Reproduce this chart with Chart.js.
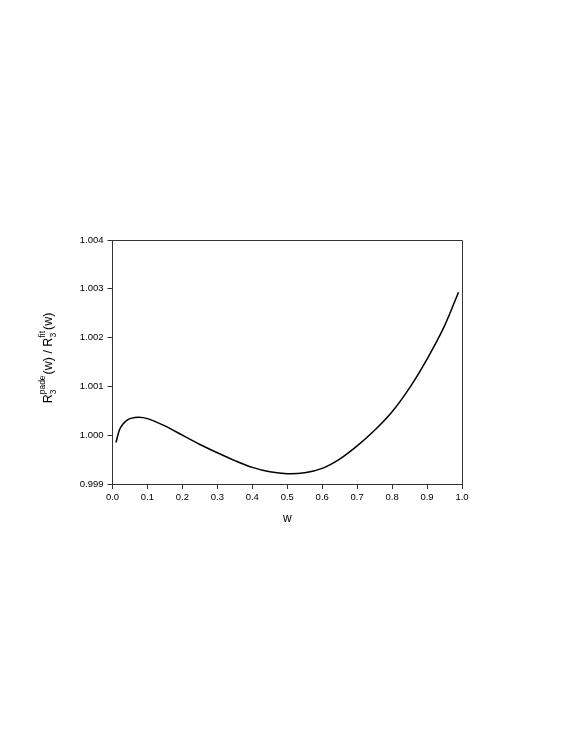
<!DOCTYPE html>
<html>
<head>
<meta charset="utf-8">
<script src="https://cdn.jsdelivr.net/npm/chart.js@4/dist/chart.umd.min.js"></script>
<style>
  html, body { margin: 0; padding: 0; background: #fff; }
  #wrap { width: 575px; height: 747px; }
</style>
</head>
<body>
<div id="wrap"><canvas id="ratioChart"></canvas></div>
<script>
// values
const wValues = [0.01, 0.02, 0.03, 0.04, 0.05, 0.075, 0.1, 0.15, 0.2, 0.25, 0.3, 0.35, 0.4, 0.45, 0.5,
                 0.55, 0.6, 0.65, 0.7, 0.75, 0.8, 0.85, 0.9, 0.95, 0.99];
const ratioValues = [0.99985, 1.00011, 1.00023, 1.00030, 1.00034, 1.00037, 1.00034, 1.00019, 1.00000,
                     0.99981, 0.99964, 0.99948, 0.99934, 0.99925, 0.99921, 0.99923, 0.99932, 0.99951,
                     0.99978, 1.00010, 1.00048, 1.00097, 1.00156, 1.00224, 1.00293];
const xTicks = [0, 0.1, 0.2, 0.3, 0.4, 0.5, 0.6, 0.7, 0.8, 0.9, 1.0];
const yTicks = [0.999, 1.000, 1.001, 1.002, 1.003, 1.004];

const axisColor = '#333';
const tickFont = { family: 'Liberation Sans, Arial, sans-serif', size: 9.5 };

const points = wValues.map((w, i) => ({ x: w, y: ratioValues[i] }));

// frame around the plot area plus the axis titles
const framePlugin = {
    id: 'frame',
    afterDraw(chart) {
        const ctx = chart.ctx;
        const a = chart.chartArea;
        ctx.save();
        ctx.strokeStyle = axisColor;
        ctx.lineWidth = 1;
        ctx.beginPath();
        ctx.moveTo(a.left, a.top + 0.5);
        ctx.lineTo(a.right + 0.5, a.top + 0.5);
        ctx.lineTo(a.right + 0.5, a.bottom);
        ctx.stroke();

        ctx.fillStyle = '#000';
        ctx.textBaseline = 'middle';
        ctx.textAlign = 'center';
        ctx.font = '12px Liberation Sans, Arial, sans-serif';
        ctx.fillText('w', (a.left + a.right) / 2, 519);

        // y title with subscripts / superscripts
        const big = '12.5px Liberation Sans, Arial, sans-serif';
        const small = '8.5px Liberation Sans, Arial, sans-serif';
        const parts = [
            { t: 'R', f: big },
            { sub: '3', sup: 'pade' },
            { t: '(w) / R', f: big },
            { sub: '3', sup: 'fit' },
            { t: '(w)', f: big }
        ];
        let total = 0;
        parts.forEach(p => {
            if (p.t) { ctx.font = p.f; p.w = ctx.measureText(p.t).width; }
            else {
                ctx.font = small;
                p.w = Math.max(ctx.measureText(p.sub).width, ctx.measureText(p.sup).width) + 1;
            }
            total += p.w;
        });
        ctx.translate(49, 358);
        ctx.rotate(-Math.PI / 2);
        ctx.textAlign = 'left';
        let x = -total / 2;
        parts.forEach(p => {
            if (p.t) {
                ctx.font = p.f;
                ctx.fillText(p.t, x, 0);
            } else {
                ctx.font = small;
                ctx.fillText(p.sub, x, 5);
                ctx.fillText(p.sup, x, -6);
            }
            x += p.w;
        });
        ctx.restore();
    }
};

new Chart(document.getElementById('ratioChart').getContext('2d'), {
    type: 'line',
    data: {
        datasets: [{
            data: points,
            borderColor: '#000',
            borderWidth: 1.5,
            pointRadius: 0,
            fill: false,
            tension: 0.3
        }]
    },
    options: {
        responsive: true,
        maintainAspectRatio: false,
        animation: false,
        layout: { padding: { left: 0, right: 113, top: 240, bottom: 0 } },
        plugins: { legend: { display: false }, tooltip: { enabled: false } },
        scales: {
            x: {
                type: 'linear',
                min: 0, max: 1,
                afterBuildTicks: s => { s.ticks = xTicks.map(v => ({ value: v })); },
                afterFit: s => { s.height = 263; },
                ticks: {
                    color: '#000', font: tickFont, padding: 3, maxRotation: 0,
                    callback: v => v.toFixed(1)
                },
                grid: { drawOnChartArea: false, tickLength: 5, color: axisColor },
                border: { color: axisColor, width: 1 }
            },
            y: {
                min: 0.999, max: 1.004,
                afterBuildTicks: s => { s.ticks = yTicks.map(v => ({ value: v })); },
                afterFit: s => { s.width = 112.5; },
                ticks: {
                    color: '#000', font: tickFont, padding: 4,
                    callback: v => v.toFixed(3)
                },
                grid: { drawOnChartArea: false, tickLength: 5, color: axisColor },
                border: { color: axisColor, width: 1 }
            }
        }
    },
    plugins: [framePlugin]
});
</script>
</body>
</html>
